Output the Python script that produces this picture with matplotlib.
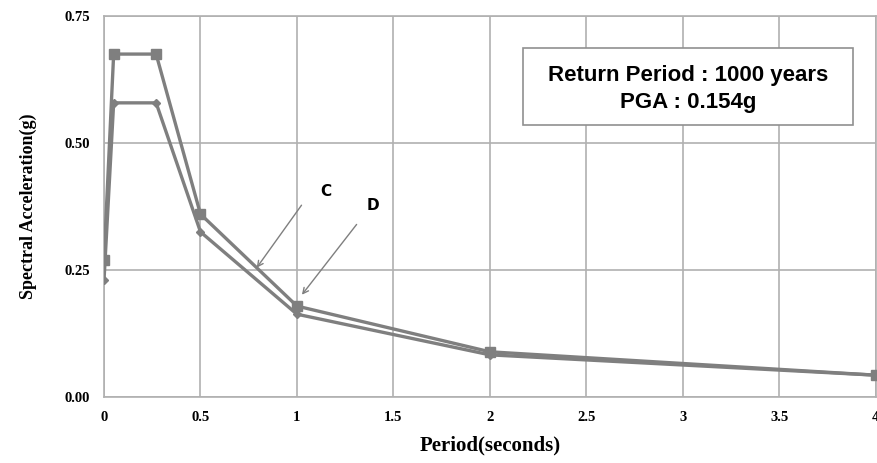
import matplotlib
matplotlib.use("Agg")
import matplotlib.pyplot as plt
from matplotlib.patches import Rectangle

# Response spectra, return period 1000 years
period = [0.0, 0.05, 0.27, 0.5, 1.0, 2.0, 4.0]
site_c = [0.27, 0.675, 0.675, 0.36, 0.179, 0.089, 0.043]
site_d = [0.23, 0.579, 0.579, 0.325, 0.163, 0.083, 0.043]

x_ticks = [0, 0.5, 1, 1.5, 2, 2.5, 3, 3.5, 4]
x_tick_labels = ["0", "0.5", "1", "1.5", "2", "2.5", "3", "3.5", "4"]
y_ticks = [0.0, 0.25, 0.5, 0.75]
y_tick_labels = ["0.00", "0.25", "0.50", "0.75"]

grey = "#7f7f7f"
grid_grey = "#b0b0b0"

fig = plt.figure(figsize=(8.77, 4.63), dpi=100)
ax = fig.add_axes([0.1186, 0.1425, 0.880, 0.823])

ax.plot(period, site_c, color=grey, lw=2.4, marker="s", ms=7, zorder=3)
ax.plot(period, site_d, color=grey, lw=2.4, marker="D", ms=4, zorder=3)

ax.set_xlim(0, 4)
ax.set_ylim(0, 0.75)
ax.set_xticks(x_ticks)
ax.set_xticklabels(x_tick_labels)
ax.set_yticks(y_ticks)
ax.set_yticklabels(y_tick_labels)
ax.grid(True, color=grid_grey, lw=1.2)
ax.set_axisbelow(True)
for s in ax.spines.values():
    s.set_color(grid_grey)
    s.set_linewidth(1.2)
ax.tick_params(length=0, pad=10)
for lbl in ax.get_xticklabels() + ax.get_yticklabels():
    lbl.set_fontfamily("Liberation Serif")
    lbl.set_fontweight("bold")
    lbl.set_fontsize(10.5)

ax.set_xlabel("Period(seconds)", fontfamily="Liberation Serif",
              fontweight="bold", fontsize=15, labelpad=8)
ax.set_ylabel("Spectral Acceleration(g)", fontfamily="Liberation Serif",
              fontweight="bold", fontsize=13, labelpad=20)

# Info box
ax.add_patch(Rectangle((0.5427, 0.714), 0.4273, 0.202, transform=ax.transAxes,
                       fc="white", ec="#909090", lw=1.2, zorder=5))
info_font = dict(fontfamily="Liberation Sans", fontweight="bold", fontsize=16,
                 ha="center", va="center", transform=ax.transAxes, zorder=6)
ax.text(0.7565, 0.845, "Return Period : 1000 years", **info_font)
ax.text(0.7565, 0.774, "PGA : 0.154g", **info_font)

arrow = dict(arrowstyle="->", color=grey, lw=1.0)
ax.annotate("", xy=(0.783, 0.25), xytext=(1.032, 0.382), arrowprops=arrow)
ax.annotate("", xy=(1.017, 0.197), xytext=(1.318, 0.344), arrowprops=arrow)
ax.text(1.147, 0.404, "C", fontfamily="DejaVu Sans", fontweight="bold",
        fontsize=11, ha="center", va="center")
ax.text(1.395, 0.376, "D", fontfamily="DejaVu Sans", fontweight="bold",
        fontsize=11, ha="center", va="center")

fig.savefig("out.png", dpi=100)
